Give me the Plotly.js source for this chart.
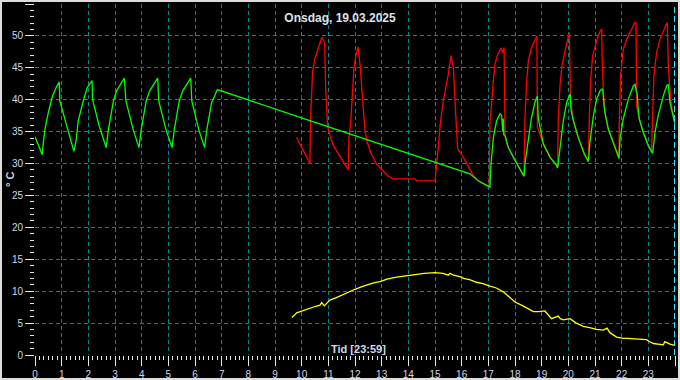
<!DOCTYPE html>
<html>
<head>
<meta charset="utf-8">
<script src="https://cdn.plot.ly/plotly-3.0.1.min.js"></script>
<style>
html,body{margin:0;padding:0;background:#000;}
#wrap{position:relative;width:680px;height:380px;}
#chart{position:absolute;left:0;top:0;width:680px;height:380px;}
#frame{position:absolute;left:0;top:0;width:680px;height:380px;box-sizing:border-box;border:2px solid #dcdcdc;pointer-events:none;}
</style>
</head>
<body>
<div id="wrap"><div id="chart"></div><div id="frame"></div></div>
<script>
// Green series (hours, °C)
const greenX = [0,0.27,0.31,0.38,0.5,0.65,0.8,0.91,0.93,1.25,1.46,1.54,1.62,1.81,1.96,2.14,2.16,2.40,2.67,2.75,2.94,3.06,3.35,3.41,3.69,3.90,3.98,4.17,4.30,4.60,4.64,4.92,5.14,5.22,5.41,5.54,5.84,5.88,6.15,6.36,6.44,6.62,6.84,10.25,16.31,16.62,17.06,17.1,17.19,17.31,17.44,17.5,17.54,17.56,17.58,17.63,17.75,18.0,18.25,18.34,18.37,18.5,18.62,18.75,18.84,18.87,19.06,19.31,19.56,19.6,19.69,19.81,19.94,20.07,20.1,20.19,20.37,20.6,20.75,20.81,20.94,21.06,21.19,21.29,21.34,21.37,21.5,21.69,21.87,21.9,21.94,22.06,22.25,22.44,22.5,22.59,22.62,22.66,22.81,23.0,23.16,23.25,23.37,23.56,23.69,23.75,23.81,23.91,24.0];
const greenY = [34.2,31.4,33.2,35.5,38.0,40.5,42.0,42.8,39.8,35.2,31.9,33.6,36.7,39.8,41.9,43.0,40.0,36.0,32.5,35.2,39.8,41.4,43.4,39.8,35.2,32.5,35.2,39.8,41.4,43.4,39.8,35.2,32.5,35.2,39.8,41.4,43.4,39.8,35.2,32.5,35.2,39.5,41.6,36.8,28.4,27.3,26.3,29.9,34.1,36.7,37.8,37.5,35.0,37.0,34.5,34.4,32.5,30.5,28.6,28.0,29.9,34.1,37.2,39.6,40.6,37.2,33.1,31.0,29.7,29.3,32.5,36.7,39.6,40.9,38.5,36.7,34.1,31.5,30.3,33.3,37.5,40.1,41.4,41.7,39.1,38.0,35.4,33.3,31.25,30.8,33.9,37.0,40.1,42.2,42.4,40.6,38.5,37.0,34.9,32.8,31.6,34.9,37.5,40.6,42.2,42.4,39.6,37.5,36.2];

// Red series
const redX = [9.81,10.0,10.15,10.31,10.33,10.41,10.5,10.59,10.76,10.86,10.9,10.97,11.06,11.19,11.44,11.75,11.77,11.84,11.96,12.04,12.12,12.2,12.29,12.37,12.44,12.6,12.81,13.06,13.25,13.44,14.25,14.31,15.0,15.12,15.21,15.31,15.5,15.6,15.69,15.75,15.79,15.85,16.06,16.12,16.31,16.45,16.62,16.88,17.03,17.06,17.13,17.19,17.25,17.35,17.48,17.54,17.59,17.63,17.75,18.0,18.25,18.34,18.37,18.44,18.5,18.62,18.79,18.82,18.84,19.06,19.31,19.56,19.6,19.62,19.69,19.77,19.87,20.02,20.04,20.08,20.19,20.37,20.6,20.69,20.75,20.79,20.84,20.91,21.0,21.12,21.21,21.25,21.27,21.31,21.37,21.5,21.69,21.87,21.9,21.91,21.96,22.06,22.19,22.37,22.5,22.54,22.56,22.66,22.81,23.0,23.12,23.16,23.21,23.31,23.44,23.62,23.71,23.75,23.84,23.91,24.0];
const redY = [34.1,32.6,31.2,30.0,36.5,44.5,46.5,47.7,49.8,49.0,42.0,35.9,34.4,32.8,31.0,29.0,34.0,36.5,45.0,47.1,48.3,45.0,39.8,35.5,33.6,31.6,29.9,28.9,28.0,27.6,27.6,27.3,27.3,32.5,36.7,39.8,44.0,46.9,45.0,39.8,36.7,32.3,31.0,30.5,29.0,28.0,27.3,26.8,26.4,36.2,40.4,43.0,45.6,47.1,48.1,47.4,48.2,34.1,32.5,30.5,28.6,28.2,36.7,43.0,46.1,48.2,50.0,50.0,35.7,33.1,31.0,29.7,29.5,36.7,42.4,45.6,47.7,50.3,50.5,40.0,36.7,34.1,31.5,31.0,30.5,37.5,43.2,46.9,48.4,50.0,50.9,51.0,46.4,41.7,38.0,35.4,33.3,31.25,31.0,36.5,43.75,47.9,49.5,51.0,52.1,52.0,39.1,37.0,34.9,32.8,31.8,37.5,43.75,47.4,49.5,51.3,52.1,45.3,40.1,38.0,36.2];

// Yellow series
const yellowX = [9.63,9.7,9.81,10.0,10.31,10.5,10.69,10.75,10.85,11.06,11.3,11.5,11.69,12.0,12.31,12.5,12.7,12.94,13.2,13.56,13.9,14.19,14.6,15.0,15.3,15.5,15.56,15.7,16.0,16.06,16.3,16.56,16.8,17.06,17.3,17.56,17.8,18.0,18.3,18.69,18.9,19.12,19.2,19.37,19.62,19.7,19.81,20.06,20.3,20.56,20.8,21.06,21.31,21.45,21.56,21.81,22.06,22.2,22.94,23.0,23.19,23.56,23.62,23.81,24.0];
const yellowY = [5.9,6.1,6.6,6.9,7.3,7.6,7.8,8.2,7.7,8.6,9.0,9.4,9.7,10.3,10.8,11.1,11.3,11.5,11.9,12.2,12.4,12.6,12.8,12.9,12.8,12.5,12.8,12.5,12.2,12.0,11.8,11.4,11.2,10.8,10.5,9.9,9.0,8.3,7.7,6.8,6.8,6.9,6.5,5.7,6.1,5.7,5.5,5.7,5.0,4.5,4.3,4.0,3.9,4.2,3.5,2.8,2.6,2.6,2.4,2.2,1.8,1.6,2.1,1.7,1.5];

const xTickVals = [0,1,2,3,4,5,6,7,8,9,10,11,12,13,14,15,16,17,18,19,20,21,22,23,24];
const yTickVals = [0,5,10,15,20,25,30,35,40,45,50,55];
const titleText = "Onsdag, 19.03.2025";
const xTitleText = "Tid [23:59]";
const yTitleText = "° C";

const lbl = '#d0d8e8';
const grid = '#008a8a';

const traces = [
  {x: yellowX, y: yellowY, type: 'scatter', mode: 'lines', line: {color: '#ffff00', width: 1.3}, hoverinfo: 'skip'},
  {x: redX, y: redY, type: 'scatter', mode: 'lines', line: {color: '#ff0000', width: 1.3}, hoverinfo: 'skip'},
  {x: greenX, y: greenY, type: 'scatter', mode: 'lines', line: {color: '#00ff00', width: 1.3}, hoverinfo: 'skip'}
];

const layout = {
  width: 680, height: 380,
  paper_bgcolor: '#000000', plot_bgcolor: '#000000',
  margin: {l: 35, r: 5, t: 4, b: 25},
  showlegend: false,
  font: {family: 'Liberation Sans, Arial, sans-serif', size: 10, color: lbl},
  title: {text: '<b>' + titleText + '</b>', x: 0.5, xref: 'container', y: 1 - 18/380, yref: 'container', xanchor: 'center', yanchor: 'middle', font: {size: 12, color: '#dce2ee', family: 'Liberation Sans, Arial, sans-serif'}},
  xaxis: {
    range: [0, 24], tickvals: xTickVals, ticktext: xTickVals.map(String),
    showgrid: true, gridcolor: grid, griddash: '4px,3px', gridwidth: 1,
    zeroline: false, showline: false,
    ticks: 'outside', ticklen: 10, tickcolor: '#e8e8e8', tickwidth: 1,
    tickfont: {size: 10, color: lbl},
    minor: {dtick: 1/6, ticks: 'outside', ticklen: 4, tickcolor: '#e8e8e8', tickwidth: 1, showgrid: false},
    fixedrange: true
  },
  yaxis: {
    range: [0, 55], tickvals: yTickVals, ticktext: yTickVals.map(String),
    showgrid: true, gridcolor: grid, griddash: '4px,3px', gridwidth: 1,
    zeroline: false, showline: false,
    ticks: 'outside', ticklen: 9, tickcolor: '#e8e8e8', tickwidth: 1,
    tickfont: {size: 10, color: lbl},
    minor: {dtick: 1, ticks: 'outside', ticklen: 4, tickcolor: '#e8e8e8', tickwidth: 1, showgrid: false},
    fixedrange: true
  },
  shapes: [
    {type: 'line', xref: 'x', yref: 'paper', x0: 24, x1: 24, y0: 0, y1: 1, line: {color: '#30e8ff', width: 2, dash: '6px,3px'}}
  ],
  annotations: [
    {text: '<b>' + xTitleText + '</b>', xref: 'paper', yref: 'paper', x: (358-35)/640, y: 6/351, xanchor: 'center', yanchor: 'middle', showarrow: false, font: {size: 11, color: lbl}},
    {text: '<b>' + yTitleText + '</b>', xref: 'paper', yref: 'paper', x: -25/640, y: 175/351, xanchor: 'center', yanchor: 'middle', textangle: -90, showarrow: false, font: {size: 11, color: lbl}}
  ]
};

Plotly.newPlot('chart', traces, layout, {staticPlot: true, displayModeBar: false});
</script>
</body>
</html>
